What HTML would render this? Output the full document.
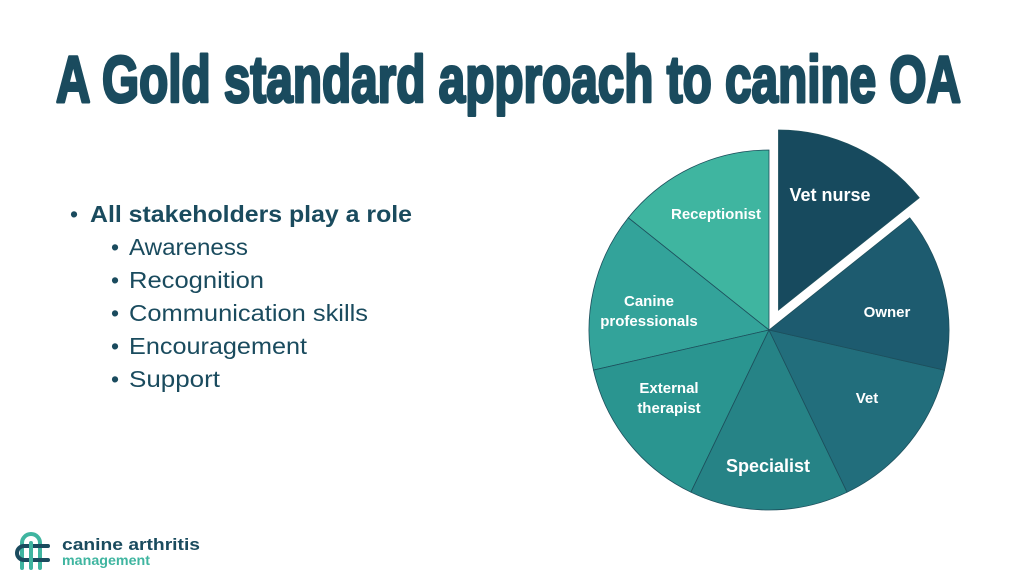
<!DOCTYPE html>
<html><head><meta charset="utf-8"><style>
html,body{margin:0;padding:0;background:#fff;width:1024px;height:576px;overflow:hidden}
svg{display:block}
</style></head><body>
<svg width="1024" height="576" viewBox="0 0 1024 576" xmlns="http://www.w3.org/2000/svg" font-family="Liberation Sans, sans-serif">
<rect width="1024" height="576" fill="#fff"/>
<text x="56" y="102" font-family="Liberation Sans Narrow, Liberation Sans, sans-serif" font-weight="bold" font-size="66" fill="#1a4b5e" stroke="#1a4b5e" stroke-width="3" stroke-linejoin="round" textLength="905" lengthAdjust="spacingAndGlyphs">A Gold standard approach to canine OA</text>

<g fill="#1a4b5e" font-size="23">
<text x="70" y="222">•</text>
<text x="90" y="222" font-weight="bold" textLength="322" lengthAdjust="spacingAndGlyphs">All stakeholders play a role</text>
<text x="111" y="255">•</text><text x="129" y="255" textLength="119" lengthAdjust="spacingAndGlyphs">Awareness</text>
<text x="111" y="288">•</text><text x="129" y="288" textLength="135" lengthAdjust="spacingAndGlyphs">Recognition</text>
<text x="111" y="321">•</text><text x="129" y="321" textLength="239" lengthAdjust="spacingAndGlyphs">Communication skills</text>
<text x="111" y="354">•</text><text x="129" y="354" textLength="178" lengthAdjust="spacingAndGlyphs">Encouragement</text>
<text x="111" y="387">•</text><text x="129" y="387" textLength="91" lengthAdjust="spacingAndGlyphs">Support</text>
</g>

<g stroke="#1d4f5c" stroke-width="0.8">
<path d="M769,330 L769,150 A180,180 0 0 0 628.3,217.8 Z" fill="#3fb5a0"/>
<path d="M769,330 L628.3,217.8 A180,180 0 0 0 593.5,370.1 Z" fill="#33a39a"/>
<path d="M769,330 L593.5,370.1 A180,180 0 0 0 690.9,492.2 Z" fill="#2a9590"/>
<path d="M769,330 L690.9,492.2 A180,180 0 0 0 847.1,492.2 Z" fill="#268386"/>
<path d="M769,330 L847.1,492.2 A180,180 0 0 0 944.5,370.1 Z" fill="#226e7c"/>
<path d="M769,330 L944.5,370.1 A180,180 0 0 0 909.7,217.8 Z" fill="#1d5b6f"/>
<path d="M778.5,310 L778.5,130 A180,180 0 0 1 919.2,197.8 Z" fill="#174a5e"/>
</g>
<g fill="#fff" font-weight="bold" text-anchor="middle">
<text x="830" y="201" font-size="18">Vet nurse</text>
<text x="716" y="219" font-size="15">Receptionist</text>
<text x="887" y="317" font-size="15">Owner</text>
<text x="649" y="306" font-size="15">Canine</text>
<text x="649" y="326" font-size="15">professionals</text>
<text x="669" y="393" font-size="15">External</text>
<text x="669" y="413" font-size="15">therapist</text>
<text x="867" y="403" font-size="15">Vet</text>
<text x="768" y="472" font-size="18">Specialist</text>
</g>

<g fill="none" stroke-width="4" stroke-linecap="round">
<path d="M40,568 L40,543 A9,9 0 0 0 22,543 L22,568" stroke="#3fb5a0"/>
<path d="M48,546 L24,546 A7,7 0 0 0 24,560 L48,560" stroke="#1a4b5e"/>
<path d="M31,543 L31,568" stroke="#3fb5a0"/>
</g>
<text x="62" y="550" font-size="17" font-weight="bold" fill="#1a4b5e" textLength="138" lengthAdjust="spacingAndGlyphs">canine arthritis</text>
<text x="62" y="565" font-size="14" font-weight="bold" fill="#3fb5a0" textLength="88" lengthAdjust="spacingAndGlyphs">management</text>
</svg>
</body></html>
